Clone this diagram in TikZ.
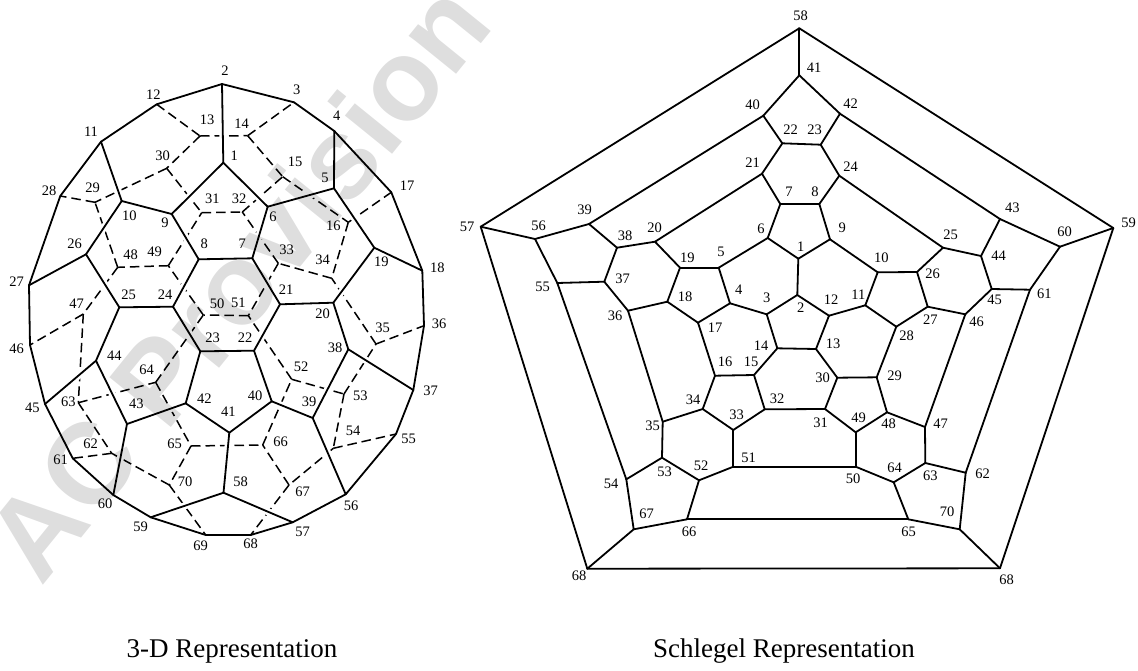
\documentclass[tikz,border=0pt]{standalone}
\usepackage{fontspec}
\setmainfont{Liberation Serif}
\newfontfamily\markfont{Liberation Sans}
\tikzset{
  solidedge/.style={black,line width=1.8pt,line cap=round},
  dashedge/.style={black,line width=1.5pt,dash pattern=on 9.5pt off 5pt},
  gapedge/.style={white,line width=7pt,shorten >=6pt,shorten <=6pt},
  numlabel/.style={inner sep=0pt,font=\fontsize{14.5}{14.5}\selectfont},
  caption/.style={inner sep=0pt,font=\fontsize{27}{27}\selectfont},
  watermark/.style={inner sep=0pt,text=black,text opacity=0.13,rotate=51,font=\markfont\bfseries\fontsize{115}{115}\selectfont}
}
\begin{document}
\begin{tikzpicture}[x=1pt,y=-1pt]
  \useasboundingbox (0,0) rectangle (1138,670);

  % 3-D vertices
  \foreach \n/\x/\y in {1/223.3/162.7,2/222/84,3/294/102.3,4/334.3/131,5/334/188.3,6/267.7/206.7,7/252.3/258.3,
    8/198.7/259.3,9/171.7/214,10/121.7/201,11/101/141.7,12/156.7/104.3,13/200/136,14/247.7/135.7,15/282.7/176.7,
    16/348.3/222.3,17/391.3/192.3,18/422.3/270.7,19/374.3/247.7,20/333.3/302.7,21/280/304.3,22/254/350.7,
    23/200.3/351.3,24/173/306.7,25/119.3/307.3,26/86/254.3,27/29/285.3,28/60.3/196,29/95/202.3,30/166.7/168.3,
    31/201.7/212.7,32/242.3/212,33/278.3/263.3,34/331.7/278.3,35/376/344,36/424/325.7,37/413.3/390,38/348.3/349.3,
    39/312.7/418,40/271.7/401.3,41/229.3/432.7,42/185.7/403.3,43/127/424,44/96/360.7,45/45/404,46/30/345,
    47/83.3/314,48/117.7/267.3,49/168.3/265.7,50/203.3/315,51/248.3/315.7,52/291.7/379.3,53/344/394,54/333.3/448.3,
    55/396/434,56/345.7/494.3,57/292.7/522.3,58/223.5/492.7,59/150.7/517.3,60/113.3/495,61/72.7/458.3,62/111.7/453.3,
    63/78.3/402.7,64/155.7/382.3,65/191/446,66/262.7/445,67/289/485,68/250.7/535,69/205.7/535,70/169.3/485}
    \coordinate (a\n) at (\x,\y);

  % Schlegel vertices
  \foreach \n/\x/\y in {1/798.3/258.7,2/797.3/295,3/766.7/314.3,4/730/303.3,5/718.7/267.7,6/767.7/238,7/780.3/204,
    8/819.3/204,9/830/239.3,10/877.7/272.3,11/865.3/305.3,12/829/315.7,13/816/349,14/777.3/348.3,15/754/375,
    16/715/375.7,17/698/322.7,18/667.3/301.7,19/680/267.7,20/655/241.7,21/762/173.7,22/782.3/143.3,23/820.7/144.7,
    24/839.3/175.7,25/943/247.7,26/917/272,27/927.7/306.7,28/896.3/326.7,29/876.7/377.3,30/837.3/377.7,31/825/409,
    32/764.7/409.3,33/733.3/430,34/702.7/409,35/662.7/421.7,36/628/310.7,37/604.3/281.7,38/617/247.7,39/589/224,
    40/763.3/115.7,41/799.3/75.3,42/840/113.7,43/1000/219,44/981/256,45/991.7/289,46/965.3/314.3,47/925/427,
    48/887/412.3,49/855.7/432.3,50/855.7/466.7,51/733.3/466.7,52/699/480.3,53/662/457.7,54/626.3/479.3,55/557.3/283,
    56/535/239,57/480.7/226.7,58/799.3/28.3,59/1113.3/228,60/1060/246.7,61/1030/289.7,62/965.7/472.7,63/925.3/463,
    64/893.7/482.3,65/908.3/519.3,66/687/519.3,67/633.7/529.3,68/587.3/568.7,69/1000/568.3,70/959.7/529.3}
    \coordinate (s\n) at (\x,\y);

  % Hidden edges of the 3-D cage
  \foreach \p/\q in {12/13,13/14,14/3,13/30,30/29,29/28,30/31,31/32,32/15,14/15,15/16,16/17,16/34,34/33,33/32,33/51,
    51/50,50/49,49/31,49/48,48/29,48/47,47/46,47/63,63/64,63/62,62/61,64/50,64/65,65/66,66/52,52/51,52/53,53/35,35/36,
    35/34,53/54,54/55,54/67,67/66,67/68,65/70,70/69,70/62}
    \draw[dashedge] (a\p) -- (a\q);

  \def\frontedges{2/12,12/11,11/28,28/27,27/46,46/45,45/61,61/60,60/59,59/69,69/68,68/57,57/56,56/55,55/37,37/36,36/18,
    18/17,17/4,4/3,3/2,2/1,1/9,1/6,9/10,10/11,10/26,26/27,26/25,25/24,24/8,8/9,8/7,7/6,6/5,5/4,5/19,19/18,19/20,20/21,
    21/7,21/22,22/23,23/24,25/44,44/45,44/43,43/42,42/23,43/60,42/41,41/40,40/22,41/58,58/59,58/57,40/39,39/38,38/20,
    38/37,39/56}

  % Gaps where hidden edges pass behind
  \foreach \p/\q in \frontedges
    \draw[gapedge] (a\p) -- (a\q);

  % Front edges of the 3-D cage
  \foreach \p/\q in \frontedges
    \draw[solidedge] (a\p) -- (a\q);

  % Schlegel edges
  \foreach \p/\q in {58/57,58/59,58/41,57/56,57/68,59/60,59/69,68/69,41/40,41/42,40/22,42/23,22/23,40/39,42/43,39/56,
    39/38,43/60,43/44,38/20,38/37,44/25,44/45,60/61,45/61,45/46,25/26,25/24,26/10,26/27,20/19,20/21,21/22,23/24,21/7,
    24/8,7/8,7/6,8/9,6/1,9/1,6/5,9/10,5/19,10/11,19/18,11/12,11/28,28/27,27/46,18/36,18/17,37/36,37/55,55/56,55/54,
    5/4,4/17,4/3,3/2,1/2,2/12,12/13,13/14,3/14,14/15,15/16,16/17,16/34,15/32,34/33,32/33,34/35,36/35,35/53,33/51,51/52,
    52/53,53/54,52/66,54/67,67/66,67/68,46/47,47/48,47/63,63/64,63/62,62/61,62/70,70/65,70/69,65/64,65/66,64/50,50/51,
    50/49,49/48,48/29,29/28,29/30,30/13,30/31,31/32,31/49}
    \draw[solidedge] (s\p) -- (s\q);

  % 3-D numbers
  \foreach \n/\x/\y in {1/234.3/156,2/225/71,3/296.7/90,4/336.7/116,5/325/177.7,6/273/216.7,7/242.3/243.3,8/204.3/243.7,
    9/165/222.7,10/129.3/215.7,11/91/131.7,12/153.3/95,13/207/120,14/241.7/123.3,15/295/161.7,16/333.3/225.7,
    17/407/185.7,18/437.3/267.3,19/381.3/261.7,20/322.7/314,21/286/290,22/245/337.3,23/212.7/337.7,24/165/295,
    25/128.7/295,26/74.7/244,27/16.7/281.7,28/49/191,29/92.7/188,30/162.7/156,31/212.3/198.7,32/239/199,33/286.7/250,
    34/322.7/260,35/382.7/327.7,36/439/324,37/430.7/390.7,38/335/347.7,39/309/401.7,40/255/396,41/228.3/411.7,
    42/204.3/398.7,43/136.3/404,44/114.3/355.7,45/32.3/408,46/16.7/348.3,47/76.7/304,48/130.7/255,49/154.7/252,
    50/217/303.3,51/238.3/302.7,52/301/366.7,53/360.3/395.7,54/353/430.7,55/408.7/439.3,56/351/505.7,57/302.7/531.7,
    58/240.7/481.7,59/140.7/526.7,60/105/503.7,61/60.7/460,62/90.7/444,63/68.3/402,64/146.7/370,65/174.7/444,
    66/280.7/442,67/302.7/491.7,68/250.7/544,69/200.7/546,70/185/481.7}
    \node[numlabel] (la\n) at (\x,\y) {\n};

  % Schlegel numbers
  \foreach \n/\x/\y in {1/800.7/246.7,2/800.7/307.7,3/766.7/297.3,4/738.7/290,5/721/252.3,6/761/228.3,7/789/192,8/815/191.7,
    9/842.3/227.7,10/881.3/257.7,11/858.3/294.3,12/831/300,13/833/343.3,14/761/345.7,15/751/361.7,16/725/361.7,
    17/715.2/327.7,18/685.2/297,19/687.3/257.3,20/654.7/228,21/752.7/162.3,22/790.7/130,23/814.7/130,24/850.7/166.7,
    25/950.7/234.3,26/932.7/273.7,27/930.3/320,28/906.7/336,29/894.7/376,30/822.7/377.7,31/820.7/422.7,32/777/398.7,
    33/736.7/415,34/693/400,35/652.7/425.7,36/615/315.3,37/622.7/278.7,38/625/236,39/584.7/209.3,40/752.7/104.3,
    41/814/67.7,42/850.7/104,43/1012.3/207.7,44/998.7/255.7,45/994.7/300,46/976.7/321.7,47/940.7/423.3,48/888.7/424,
    49/858.7/417.3,50/853/478.7,51/748.7/457.7,52/701/466,53/664.7/471.7,54/611/483.3,55/542.7/286.7,56/538.7/226,
    57/467/227,58/800.7/15.7,59/1128.7/222.7,60/1064.7/231.7,61/1044.3/294,62/982.7/473.7,63/930.3/476,64/894.7/468,
    65/908.7/531.7,66/689/531.7,67/646.7/514,68/579/575.7,70/947/511.3}
    \node[numlabel] (ls\n) at (\x,\y) {\n};
  \node[numlabel] (ls69) at (1006.7,580) {68};

  % Captions
  \node[caption] (threedcap) at (232,651) {3-D Representation};
  \node[caption] (schlegelcap) at (784,651) {Schlegel Representation};

  % Watermark
  \node[watermark] (wmark) at (237,281) {AC Provision};
\end{tikzpicture}
\end{document}
